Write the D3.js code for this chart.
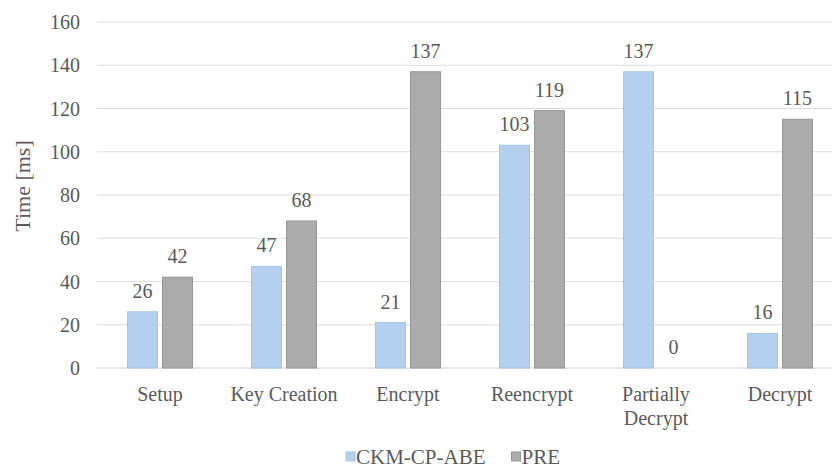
<!DOCTYPE html>
<html>
<head>
<meta charset="utf-8">
<script src="https://cdn.jsdelivr.net/npm/d3@7"></script>
<style>
  html, body { margin: 0; padding: 0; background: #fff; }
</style>
</head>
<body>
<svg id="chart" width="832" height="473"></svg>
<script>
// Operation timings (ms) for the two schemes
const categories = ["Setup", "Key Creation", "Encrypt", "Reencrypt", "Partially Decrypt", "Decrypt"];
const seriesNames = ["CKM-CP-ABE", "PRE"];
const ckmValues = [26, 47, 21, 103, 137, 16];
const preValues = [42, 68, 137, 119, 0, 115];
const yTicks = [0, 20, 40, 60, 80, 100, 120, 140, 160];

const colors = { "CKM-CP-ABE": "#b5d0ef", "PRE": "#ababab" };
const strokes = { "CKM-CP-ABE": "#a3c3e8", "PRE": "#979797" };

const FONT = "'Liberation Serif', 'Noto Serif', 'DejaVu Serif', 'Times New Roman', serif";
const TEXT_COLOR = "#5a5a5a";

const svg = d3.select("#chart")
  .attr("font-family", FONT);
const fontSize = 20;

const x = d3.scaleBand().domain(categories).range([98, 842]).paddingInner(0).paddingOuter(0);
const inner = d3.scaleBand().domain(seriesNames).range([-32.5, 32.5]).paddingInner(5 / 35);
const y = d3.scaleLinear().domain([0, 160]).range([368, 22]);

// Horizontal gridlines
svg.append("g")
  .selectAll("line")
  .data(yTicks)
  .join("line")
  .attr("x1", 97).attr("x2", 832)
  .attr("y1", d => y(d)).attr("y2", d => y(d))
  .attr("stroke", d => d === 0 ? "#cfcfcf" : "#dcdcdc")
  .attr("stroke-width", 1.2);

// Y axis tick labels
const yAxis = d3.axisLeft(y).tickValues(yTicks).tickSize(0).tickPadding(0);
const gy = svg.append("g").attr("transform", "translate(80,0)").call(yAxis)
  .attr("font-family", FONT);
gy.select(".domain").remove();
gy.selectAll("text")
  .style("font-family", FONT)
  .style("font-size", fontSize + "px")
  .attr("fill", TEXT_COLOR)
  .attr("dy", "0.33em");

// Y axis title
svg.append("text")
  .attr("transform", "translate(30,186) rotate(-90)")
  .attr("text-anchor", "middle")
  .style("font-family", FONT)
  .style("font-size", "22px")
  .attr("fill", TEXT_COLOR)
  .text("Time [ms]");

// Bars
const rows = categories.map((c, i) => ({ category: c, values: [
  { series: "CKM-CP-ABE", value: ckmValues[i] },
  { series: "PRE", value: preValues[i] }
]}));

const groups = svg.append("g")
  .selectAll("g")
  .data(rows)
  .join("g")
  .attr("transform", d => `translate(${x(d.category) + x.bandwidth() / 2},0)`);

groups.selectAll("rect")
  .data(d => d.values.filter(v => v.value > 0))
  .join("rect")
  .attr("x", d => inner(d.series))
  .attr("width", inner.bandwidth())
  .attr("y", d => y(d.value))
  .attr("height", d => y(0) - y(d.value))
  .attr("fill", d => colors[d.series])
  .attr("stroke", d => strokes[d.series])
  .attr("stroke-width", 1);

// Value labels
groups.selectAll("text.value")
  .data(d => d.values)
  .join("text")
  .attr("class", "value")
  .attr("x", d => inner(d.series) + inner.bandwidth() / 2)
  .attr("y", d => y(d.value) - 14)
  .attr("text-anchor", "middle")
  .style("font-family", FONT)
  .style("font-size", fontSize + "px")
  .attr("fill", TEXT_COLOR)
  .text(d => d.value);

// Category labels (wrapped onto two lines where needed)
const catLines = { "Partially Decrypt": ["Partially", "Decrypt"] };
const xAxis = svg.append("g");
categories.forEach(c => {
  const lines = catLines[c] || [c];
  const t = xAxis.append("text")
    .attr("x", x(c) + x.bandwidth() / 2)
    .attr("y", 401)
    .attr("text-anchor", "middle")
    .style("font-family", FONT)
    .style("font-size", fontSize + "px")
    .attr("fill", TEXT_COLOR);
  lines.forEach((ln, i) => {
    t.append("tspan")
      .attr("x", x(c) + x.bandwidth() / 2)
      .attr("dy", i === 0 ? 0 : 24)
      .text(ln);
  });
});

// Legend
const legend = svg.append("g").attr("transform", "translate(346,464)");
let lx = 0;
seriesNames.forEach(name => {
  const item = legend.append("g").attr("transform", `translate(${lx},0)`);
  item.append("rect")
    .attr("x", 0).attr("y", -12)
    .attr("width", 9).attr("height", 9)
    .attr("fill", colors[name])
    .attr("stroke", strokes[name]);
  const t = item.append("text")
    .attr("x", 10).attr("y", 0)
    .style("font-family", FONT)
    .style("font-size", "21px")
    .attr("fill", TEXT_COLOR)
    .text(name);
  lx += 10 + t.node().getComputedTextLength() + 26;
});
</script>
</body>
</html>
